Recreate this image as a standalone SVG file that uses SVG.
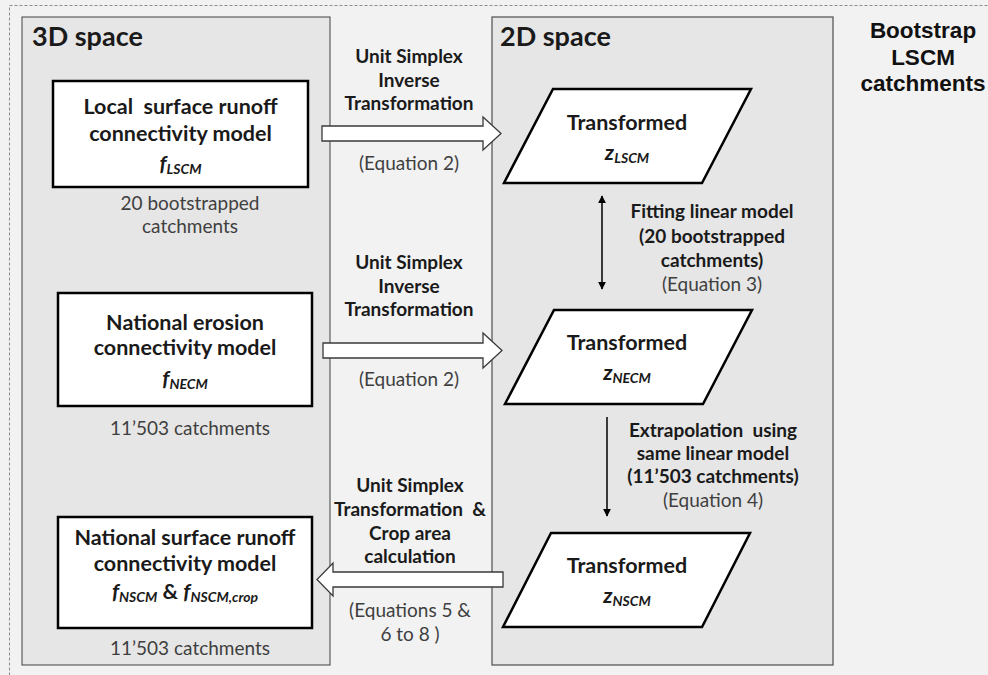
<svg xmlns="http://www.w3.org/2000/svg" width="988" height="675" viewBox="0 0 988 675">
<defs>
<style>
.bg{fill:#f2f2f2}
.frame{fill:none;stroke:#8c8c8c;stroke-width:1;stroke-dasharray:3,2}
.panel{fill:#e6e6e6;stroke:#404040;stroke-width:1}
.box{fill:#fff;stroke:#000;stroke-width:2.5}
.para{fill:#fff;stroke:#000;stroke-width:2.5;stroke-linejoin:miter}
.barrow{fill:#fff;stroke:#3a3a3a;stroke-width:1.3}
.t{font-family:Lato,"Open Sans",sans-serif;text-anchor:middle;fill:#1a1a1a}
.b{font-weight:bold}
.big{font-size:21.5px}
.mid{font-size:19px}
.eq{font-size:19px;fill:#3f3f3f}
.sub{font-size:14px}
.title{font-family:Lato,"Open Sans",sans-serif;font-weight:bold;font-size:27px;fill:#1a1a1a}
.side{font-family:"Liberation Sans",Arial,sans-serif;font-weight:bold;font-size:22.5px;text-anchor:middle;fill:#111}
.line{stroke:#000;stroke-width:1.5;fill:none}
</style>
<marker id="ah" viewBox="0 0 10 10" refX="9" refY="5" markerWidth="8" markerHeight="10" markerUnits="userSpaceOnUse" orient="auto-start-reverse">
<path d="M0,0 L10,5 L0,10 z" fill="#000"/>
</marker>
</defs>
<rect class="bg" x="0" y="0" width="988" height="675"/>
<rect class="frame" x="9.5" y="5.5" width="1000" height="700"/>

<g id="panel3d">
<rect class="panel" x="22" y="17" width="308" height="648"/>
<text class="title" x="32" y="46">3D space</text>
</g>
<g id="panel2d">
<rect class="panel" x="492" y="17" width="341" height="648" style="stroke:#5a5a5a;stroke-width:1.3"/>
<text class="title" x="500" y="46">2D space</text>
</g>
<g id="bootstrap">
<text class="side" x="923" y="38">Bootstrap</text>
<text class="side" x="923" y="65">LSCM</text>
<text class="side" x="923" y="91">catchments</text>
</g>

<g id="lscm">
<rect class="box" x="53" y="81" width="255" height="106"/>
<text class="t b big" x="180.5" y="114">Local&#160; surface runoff</text>
<text class="t b big" x="180.5" y="141">connectivity model</text>
<text class="t b big" x="180.5" y="171" font-style="italic">f<tspan class="sub" dy="3">LSCM</tspan></text>
<text class="t eq" x="190" y="210">20 bootstrapped</text>
<text class="t eq" x="190" y="233">catchments</text>
</g>

<g id="necm">
<rect class="box" x="58" y="293" width="254" height="113"/>
<text class="t b big" x="185" y="330">National erosion</text>
<text class="t b big" x="185" y="355">connectivity model</text>
<text class="t b big" x="185" y="386" font-style="italic">f<tspan class="sub" dy="3">NECM</tspan></text>
<text class="t eq" x="190" y="435">11’503 catchments</text>
</g>

<g id="nscm">
<rect class="box" x="58" y="517" width="254" height="111"/>
<text class="t b big" x="185" y="545">National surface runoff</text>
<text class="t b big" x="185" y="571">connectivity model</text>
<text class="t b big" x="185" y="599"><tspan font-style="italic">f</tspan><tspan class="sub" font-style="italic" dy="3">NSCM</tspan><tspan dy="-3"> &amp; </tspan><tspan font-style="italic">f</tspan><tspan class="sub" font-style="italic" dy="3">NSCM,crop</tspan></text>
<text class="t eq" x="190" y="655">11’503 catchments</text>
</g>

<g id="zlscm">
<polygon class="para" points="553,89 751,89 702,183 504,183"/>
<text class="t b big" x="627" y="130">Transformed</text>
<text class="t b big" x="627" y="160" font-style="italic">z<tspan class="sub" dy="3">LSCM</tspan></text>
</g>
<g id="znecm">
<polygon class="para" points="554,310 752,310 703,404 505,404"/>
<text class="t b big" x="627" y="350">Transformed</text>
<text class="t b big" x="627" y="380" font-style="italic">z<tspan class="sub" dy="3">NECM</tspan></text>
</g>
<g id="znscm">
<polygon class="para" points="551,533 750,533 702,627 503,627"/>
<text class="t b big" x="627" y="573">Transformed</text>
<text class="t b big" x="627" y="603" font-style="italic">z<tspan class="sub" dy="3">NSCM</tspan></text>
</g>

<g id="connectors">
<polygon class="barrow" points="322,126 483,126 483,117 501,133.5 483,150 483,141 322,141"/>
<polygon class="barrow" points="323,343 483,343 483,333 502,350.5 483,368 483,358 323,358"/>
<polygon class="barrow" points="503,572 333,572 333,563 317,579.5 333,596 333,587 503,587"/>
<line class="line" x1="602" y1="196" x2="602" y2="289" marker-start="url(#ah)" marker-end="url(#ah)"/>
<line class="line" x1="607" y1="417" x2="607" y2="516" marker-end="url(#ah)"/>
<text class="t b mid" x="409" y="63">Unit Simplex</text>
<text class="t b mid" x="409" y="87">Inverse</text>
<text class="t b mid" x="409" y="110">Transformation</text>
<text class="t eq" x="409" y="170">(Equation 2)</text>
<text class="t b mid" x="409" y="269">Unit Simplex</text>
<text class="t b mid" x="409" y="293">Inverse</text>
<text class="t b mid" x="409" y="316">Transformation</text>
<text class="t eq" x="409" y="386">(Equation 2)</text>
<text class="t b mid" x="410" y="492">Unit Simplex</text>
<text class="t b mid" x="410" y="516">Transformation&#160; &amp;</text>
<text class="t b mid" x="410" y="540">Crop area</text>
<text class="t b mid" x="410" y="563">calculation</text>
<text class="t eq" x="410" y="617">(Equations 5 &amp;</text>
<text class="t eq" x="410" y="641">6 to 8 )</text>
<text class="t b mid" x="712" y="218">Fitting linear model</text>
<text class="t b mid" x="712" y="243">(20 bootstrapped</text>
<text class="t b mid" x="712" y="267">catchments)</text>
<text class="t eq" x="712" y="291">(Equation 3)</text>
<text class="t b mid" x="713" y="437">Extrapolation&#160; using</text>
<text class="t b mid" x="713" y="460">same linear model</text>
<text class="t b mid" x="713" y="483">(11’503 catchments)</text>
<text class="t eq" x="713" y="507">(Equation 4)</text>
</g>
</svg>
